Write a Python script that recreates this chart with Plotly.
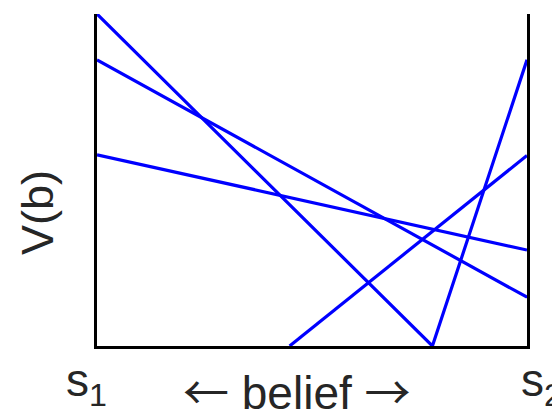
import plotly.graph_objects as go

# Value functions over the belief simplex (0 = s1, 1 = s2)
belief_a = [0.0, 0.780, 1.0]
value_a = [1.0, 0.0, 0.862]

belief_b = [0.0, 1.0]
value_b = [0.862, 0.147]

belief_c = [0.0, 1.0]
value_c = [0.576, 0.289]

belief_d = [0.448, 1.0]
value_d = [0.0, 0.574]

state_labels = ["s<sub>1</sub>", "s<sub>2</sub>"]
ARROW_STYLE = "font-family:Noto Sans CJK SC;font-size:46px"
x_title = (f"<span style='{ARROW_STYLE}'>\u2190</span> belief "
           f"<span style='{ARROW_STYLE}'>\u2192</span>")
y_title = "V(b)"

BLUE = "#0000ff"
TEXT = "#262626"
FONT = "Liberation Sans, Arial, sans-serif"

fig = go.Figure()
for xs, ys in [(belief_a, value_a), (belief_b, value_b),
               (belief_c, value_c), (belief_d, value_d)]:
    fig.add_trace(go.Scatter(x=xs, y=ys, mode="lines",
                             line=dict(color=BLUE, width=3.2),
                             showlegend=False, hoverinfo="skip"))

W, H = 552, 413
L, R, T, B = 97, 25, 14, 67

fig.update_layout(
    width=W, height=H,
    margin=dict(l=L, r=R, t=T, b=B, pad=0),
    paper_bgcolor="white", plot_bgcolor="white",
    font=dict(family=FONT, color=TEXT, size=45),
    xaxis=dict(range=[0, 1], showgrid=False, zeroline=False,
               showticklabels=False, ticks="",
               showline=True, linecolor="black", linewidth=3),
    yaxis=dict(range=[0, 1], showgrid=False, zeroline=False,
               showticklabels=False, ticks="",
               showline=True, linecolor="black", linewidth=3, mirror=True),
)

pw = W - L - R
ph = H - T - B

def px_x(p):
    return (p - L) / pw

def px_y(p):
    return (H - B - p) / ph

# state labels at the two ends of the belief axis
fig.add_annotation(text=state_labels[0], xref="paper", yref="paper",
                   x=px_x(86), y=px_y(383), xanchor="center", yanchor="middle",
                   showarrow=False, font=dict(size=46))
fig.add_annotation(text=state_labels[1], xref="paper", yref="paper",
                   x=px_x(541), y=px_y(383), xanchor="center", yanchor="middle",
                   showarrow=False, font=dict(size=46))
# axis titles
fig.add_annotation(text=x_title, xref="paper", yref="paper",
                   x=px_x(297), y=px_y(389), xanchor="center", yanchor="middle",
                   showarrow=False, font=dict(size=46))
fig.add_annotation(text=y_title, xref="paper", yref="paper",
                   x=px_x(37), y=px_y(213), xanchor="center", yanchor="middle",
                   textangle=-90, showarrow=False, font=dict(size=45))

fig.write_html("out.html")
